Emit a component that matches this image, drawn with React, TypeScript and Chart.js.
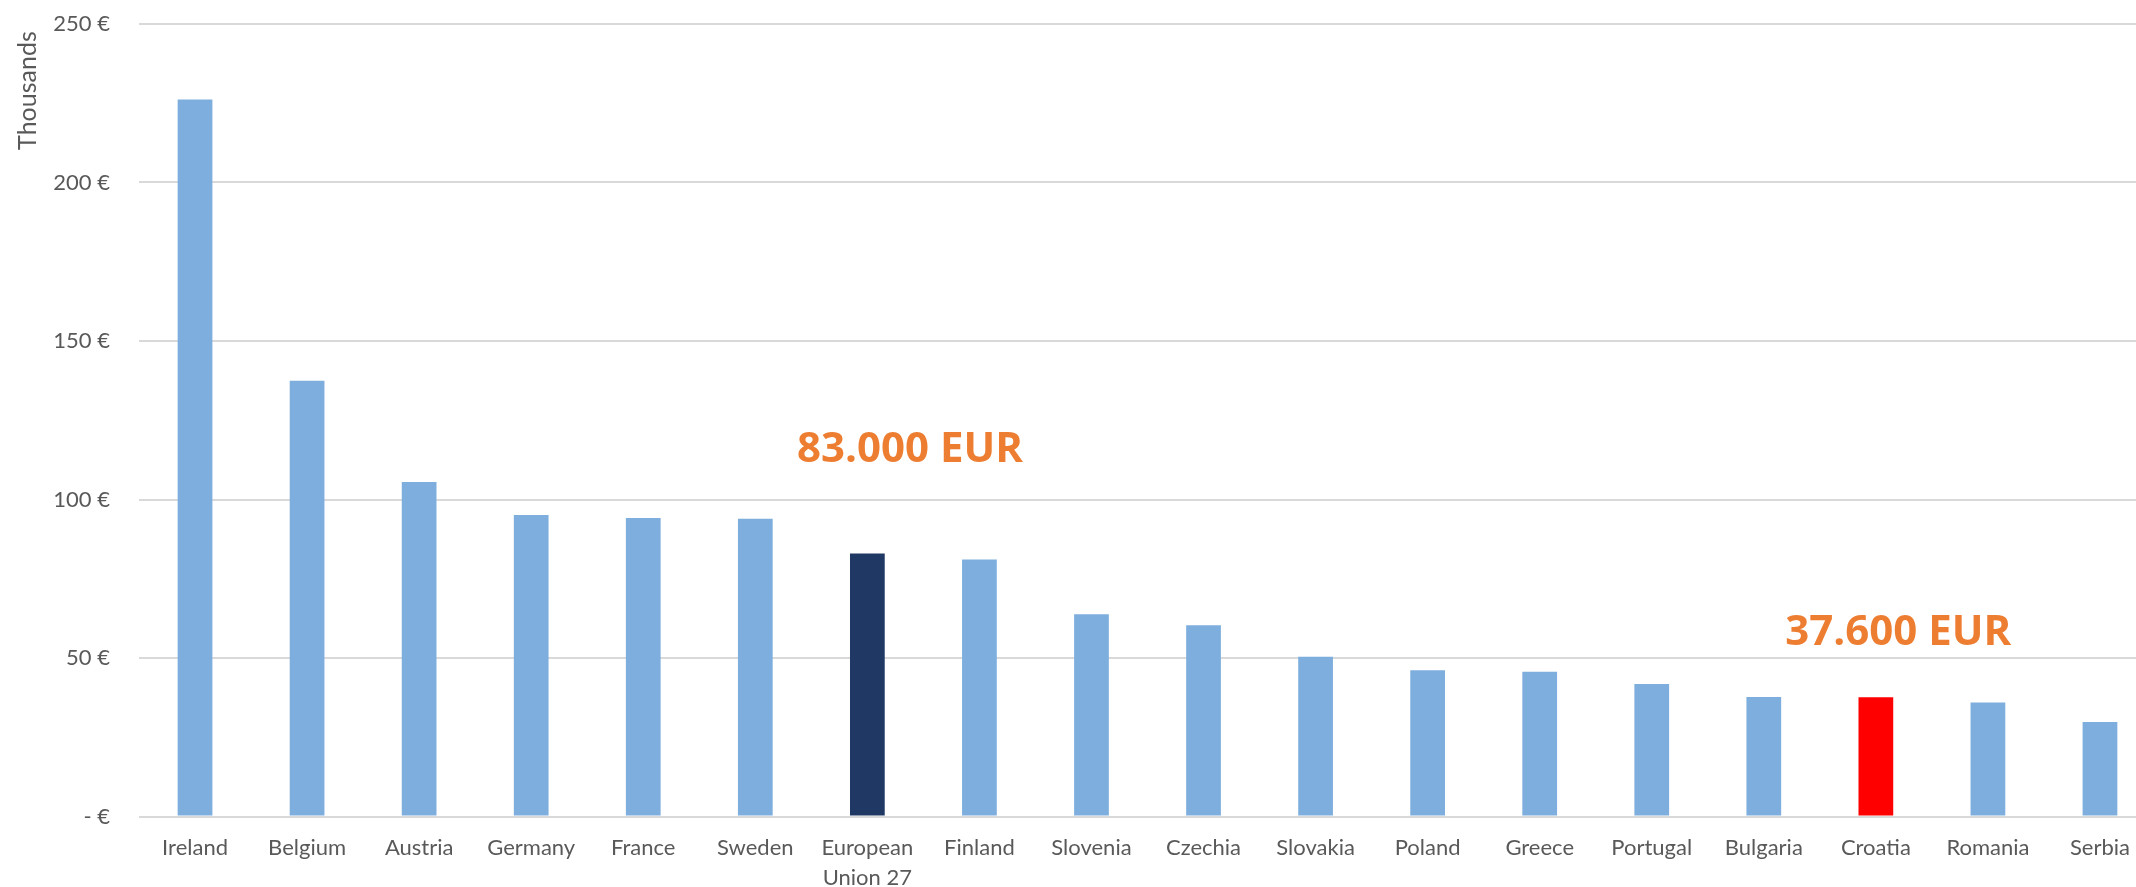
import React, { useEffect, useRef } from "react";
import { Chart, registerables } from "chart.js";

Chart.register(...registerables);

const categories: (string | string[])[] = [
  "Ireland", "Belgium", "Austria", "Germany", "France", "Sweden",
  ["European", "Union 27"], "Finland", "Slovenia", "Czechia", "Slovakia",
  "Poland", "Greece", "Portugal", "Bulgaria", "Croatia", "Romania", "Serbia",
];

const values: number[] = [
  226.2, 137.5, 105.5, 95.1, 94.2, 93.9, 83.0, 81.1, 63.8, 60.3, 50.4,
  46.1, 45.7, 41.8, 37.7, 37.6, 36.0, 29.8,
];

const barColors: string[] = [
  "#7EAEDD", "#7EAEDD", "#7EAEDD", "#7EAEDD", "#7EAEDD", "#7EAEDD",
  "#203864", "#7EAEDD", "#7EAEDD", "#7EAEDD", "#7EAEDD", "#7EAEDD",
  "#7EAEDD", "#7EAEDD", "#7EAEDD", "#FF0000", "#7EAEDD", "#7EAEDD",
];

const yTickValues: number[] = [0, 50, 100, 150, 200, 250];

const annotations = [
  { text: "83.000 EUR", xIndex: 6.38, yValue: 115.6 },
  { text: "37.600 EUR", xIndex: 15.2, yValue: 57.9 },
];

const axisTitle = { text: "Thousands", yValue: 229 };

const TEXT_COLOR = "#595959";
const FONT = "Lato";

export default function App() {
  const canvasRef = useRef<HTMLCanvasElement | null>(null);

  useEffect(() => {
    if (!canvasRef.current) return;

    const overlayPlugin = {
      id: "overlay",
      afterDraw(chart: any) {
        const { ctx, scales } = chart;
        const xs = scales.x;
        const ys = scales.y;
        ctx.save();
        ctx.fillStyle = "#ED7D31";
        ctx.font = `bold 42px "Open Sans"`;
        ctx.textAlign = "center";
        ctx.textBaseline = "middle";
        for (const a of annotations) {
          const lo = Math.floor(a.xIndex);
          const frac = a.xIndex - lo;
          const px = xs.getPixelForValue(lo) + frac * (xs.getPixelForValue(lo + 1) - xs.getPixelForValue(lo));
          ctx.fillText(a.text, px, ys.getPixelForValue(a.yValue));
        }
        ctx.restore();

        ctx.save();
        ctx.fillStyle = TEXT_COLOR;
        ctx.font = `25px ${FONT}`;
        ctx.textAlign = "center";
        ctx.textBaseline = "middle";
        ctx.translate(28, ys.getPixelForValue(axisTitle.yValue));
        ctx.rotate(-Math.PI / 2);
        ctx.fillText(axisTitle.text, 0, 0);
        ctx.restore();
      },
    };

    const chart = new Chart(canvasRef.current, {
      type: "bar",
      data: {
        labels: categories,
        datasets: [
          {
            data: values,
            backgroundColor: barColors,
            borderWidth: 0,
            barPercentage: 0.31,
            categoryPercentage: 1,
          },
        ],
      },
      options: {
        responsive: false,
        animation: false,
        devicePixelRatio: 1,
        layout: { padding: { left: 0, top: 24, right: 4, bottom: 0 } },
        plugins: {
          legend: { display: false },
          tooltip: { enabled: false },
        },
        scales: {
          x: {
            grid: { display: false, drawTicks: false },
            border: { display: false },
            ticks: {
              color: TEXT_COLOR,
              font: { family: FONT, size: 22, lineHeight: 1.35 },
              padding: 17,
              maxRotation: 0,
              autoSkip: false,
            },
            afterFit(scale: any) {
              scale.height = 70.5;
            },
          },
          y: {
            min: 0,
            max: 250,
            afterBuildTicks(scale: any) {
              scale.ticks = yTickValues.map((v) => ({ value: v }));
            },
            grid: { color: "#D9D9D9", lineWidth: 2, drawTicks: false },
            border: { display: false },
            ticks: {
              color: TEXT_COLOR,
              font: { family: FONT, size: 22 },
              padding: 29,
              callback: (v: any) => (Number(v) === 0 ? "- €" : `${v} €`),
            },
            afterFit(scale: any) {
              scale.width = 139;
              scale.paddingTop = 0;
              scale.paddingBottom = 0;
            },
          },
        },
      },
      plugins: [overlayPlugin],
    });

    return () => chart.destroy();
  }, []);

  return (
    <div
      style={{
        position: "absolute",
        left: 0,
        top: 0,
        width: 2136,
        height: 887,
        overflow: "hidden",
        background: "#ffffff",
      }}
    >
      <canvas ref={canvasRef} width={2160} height={887} style={{ display: "block" }} />
    </div>
  );
}
